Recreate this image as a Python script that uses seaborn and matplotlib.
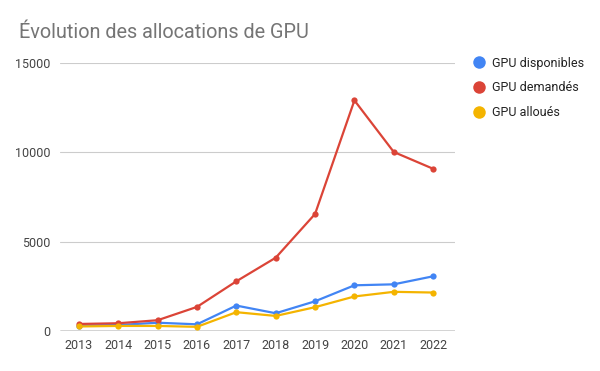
import matplotlib
matplotlib.use("Agg")
import matplotlib.pyplot as plt
import seaborn as sns
import pandas as pd
from matplotlib.lines import Line2D

years = [2013, 2014, 2015, 2016, 2017, 2018, 2019, 2020, 2021, 2022]
gpu_disponibles = [300, 330, 460, 370, 1420, 990, 1660, 2555, 2610, 3060]
gpu_demandes = [390, 430, 600, 1345, 2780, 4100, 6550, 12910, 10020, 9080]
gpu_alloues = [250, 280, 280, 230, 1050, 840, 1330, 1930, 2190, 2150]
series_names = ["GPU disponibles", "GPU demandés", "GPU alloués"]
colors = ["#4285F4", "#DB4437", "#F4B400"]
yticks = [0, 5000, 10000, 15000]

df = pd.DataFrame({
    "year": years * 3,
    "value": gpu_disponibles + gpu_demandes + gpu_alloues,
    "series": [series_names[0]] * 10 + [series_names[1]] * 10 + [series_names[2]] * 10,
})

sns.set_theme(style="white")
plt.rcParams["font.family"] = ["Roboto", "DejaVu Sans"]

fig = plt.figure(figsize=(6, 3.71), dpi=100)
ax = fig.add_axes([0.1, 0.108, 0.658, 0.722])

sns.lineplot(data=df, x="year", y="value", hue="series", hue_order=series_names,
             palette=colors, marker="o", markersize=4.5, markeredgewidth=0,
             linewidth=1.6, ax=ax, legend=False)

ax.set_xlim(2012.52, 2022.55)
ax.set_ylim(0, 15000)
ax.set_xticks(years)
ax.set_xticklabels([str(y) for y in years])
ax.set_yticks(yticks)
ax.set_yticklabels([str(t) for t in yticks])
ax.set_xlabel("")
ax.set_ylabel("")
ax.grid(axis="y", color="#cccccc", linewidth=0.8)
ax.grid(axis="x", visible=False)
ax.axhline(0, color="#333333", linewidth=1.0, zorder=1)
for s in ax.spines.values():
    s.set_visible(False)
ax.tick_params(axis="both", length=0, labelsize=9, colors="#444444", pad=6)
ax.tick_params(axis="y", pad=7)

fig.text(19 / 600, 1 - 32 / 371, "Évolution des allocations de GPU", fontsize=14.3,
         color="#757575", va="center", ha="left")

handles = [Line2D([0], [0], marker="o", linestyle="none", markersize=9,
                  markerfacecolor=c, markeredgewidth=0) for c in colors]
fig.legend(handles, series_names, loc="upper left", bbox_to_anchor=(0.777, 0.861),
           frameon=False, fontsize=9, labelcolor="#222222", handletextpad=0.5,
           labelspacing=0.95, borderaxespad=0, handlelength=1.2)

fig.savefig("out.png", dpi=100)
